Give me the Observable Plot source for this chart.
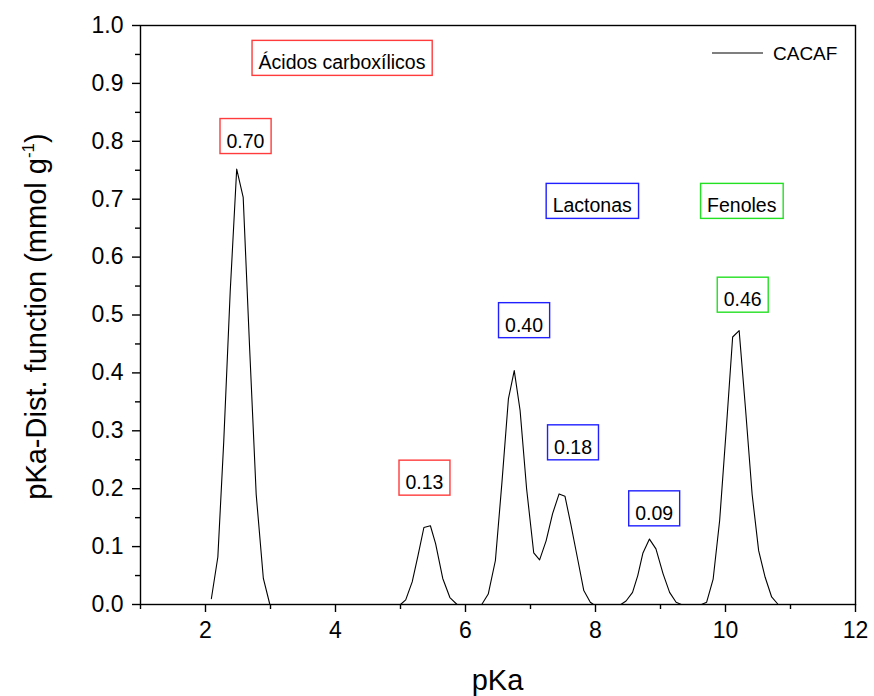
<!DOCTYPE html>
<html><head><meta charset="utf-8">
<script src="https://cdn.jsdelivr.net/npm/d3@7"></script>
<script src="https://cdn.jsdelivr.net/npm/@observablehq/plot@0.6"></script>
<style>
body{margin:0;background:#fff}
#chart svg{font-family:"Liberation Sans",Arial,sans-serif}
</style>
</head><body><div id="chart"></div>
<script>
// Series CACAF: pKa distribution values
const pKa = [2.09,2.19,2.28,2.38,2.48,2.58,2.68,2.78,2.89,2.99,
  5.00,5.08,5.18,5.27,5.36,5.46,5.54,5.65,5.76,5.87,
  6.25,6.35,6.46,6.56,6.66,6.75,6.84,6.94,7.05,7.14,7.24,7.34,7.44,7.53,7.62,7.73,7.82,7.92,7.97,
  8.39,8.47,8.57,8.65,8.73,8.83,8.93,9.04,9.14,9.24,9.32,
  9.63,9.71,9.81,9.91,10.01,10.11,10.21,10.31,10.41,10.51,10.61,10.71,10.81];
const dist = [0.010,0.082,0.28,0.54,0.752,0.703,0.44,0.19,0.045,0.0,
  0.0,0.008,0.039,0.085,0.133,0.136,0.105,0.045,0.012,0.0,
  0.0,0.018,0.076,0.21,0.355,0.404,0.335,0.20,0.089,0.077,0.11,0.157,0.191,0.187,0.139,0.076,0.024,0.004,0.0,
  0.0,0.006,0.021,0.05,0.089,0.113,0.096,0.053,0.021,0.004,0.0,
  0.0,0.004,0.044,0.145,0.30,0.462,0.473,0.335,0.19,0.093,0.047,0.013,0.0];
const seriesName = "CACAF";

// Axis ticks
const xMajorTicks = [2,4,6,8,10,12];
const xMinorTicks = [1,3,5,7,9,11];
const yMajorTicks = [0,0.1,0.2,0.3,0.4,0.5,0.6,0.7,0.8,0.9,1.0];
const yMinorTicks = [0.05,0.15,0.25,0.35,0.45,0.55,0.65,0.75,0.85,0.95];
const xLabel = "pKa";
const yLabelMain = "pKa-Dist. function (mmol g";
const yLabelSup = "-1";

// Annotation texts
const annTexts = ["Ácidos carboxílicos","0.70","0.13","0.40","0.18","0.09","Lactonas","Fenoles","0.46"];
// Annotation layout (data units) and box colours
const annPosX = [4.100,2.615,5.369,6.90,7.654,8.903,7.950,10.250,10.265];
const annPosY = [0.935,0.800,0.210,0.482,0.271,0.157,0.688,0.688,0.526];
const annBox = ["#ff3b3b","#ff3b3b","#ff3b3b","#1f1fff","#1f1fff","#1f1fff","#1f1fff","#22e022","#22e022"];

const data = pKa.map((x,i)=>({pKa:x, dist:dist[i]}));
const ann = annTexts.map((t,i)=>({label:t, x:annPosX[i], y:annPosY[i], box:annBox[i]}));

const plot = Plot.plot({
  width:874, height:696,
  marginLeft:140, marginRight:19, marginTop:25, marginBottom:92,
  x:{domain:[1,12]},
  y:{domain:[0,1]},
  style:{fontFamily:'"Liberation Sans", Arial, sans-serif', fontSize:"23px", color:"#000", background:"#fff", overflow:"visible"},
  marks:[
    Plot.line(data,{x:"pKa", y:"dist", stroke:"#000", strokeWidth:1.1}),
    Plot.frame({stroke:"#000", strokeWidth:1.4}),
    Plot.axisX({ticks:xMajorTicks, tickSize:8, tickPadding:9, tickFormat:d=>String(d), label:null, strokeWidth:1.4, fontSize:23}),
    Plot.axisX({ticks:xMinorTicks, tickSize:5, tickFormat:()=>"", label:null, strokeWidth:1.4}),
    Plot.axisY({ticks:yMajorTicks, tickSize:8, tickPadding:9, tickFormat:d3.format(".1f"), label:null, strokeWidth:1.4, fontSize:23}),
    Plot.axisY({ticks:yMinorTicks, tickSize:5, tickFormat:()=>"", label:null, strokeWidth:1.4}),
    Plot.text(ann,{x:"x", y:"y", text:"label", fontSize:19.5, fill:"#000", textAnchor:"middle"})
  ]
});
document.getElementById("chart").appendChild(plot);

const svg = d3.select(plot);
// boxes around annotations
svg.selectAll('g[aria-label="text"] text').each(function(){
  const el = this;
  const a = ann.find(o=>o.label===el.textContent);
  if(!a) return;
  const b = el.getBBox();
  const tr = el.getAttribute("transform");
  const r = document.createElementNS("http://www.w3.org/2000/svg","rect");
  r.setAttribute("x", b.x-6.5);
  r.setAttribute("y", b.y-11);
  r.setAttribute("width", b.width+13);
  r.setAttribute("height", b.height+13);
  r.setAttribute("fill","none");
  r.setAttribute("stroke", a.box);
  r.setAttribute("stroke-width", 1.4);
  if(tr) r.setAttribute("transform", tr);
  el.parentNode.insertBefore(r, el);
});

// legend
const xs = plot.scale("x"), ys = plot.scale("y");
const fr = xs.apply(12), ft = ys.apply(1);
svg.append("line").attr("x1",fr-143).attr("x2",fr-92).attr("y1",ft+28).attr("y2",ft+28).attr("stroke","#000").attr("stroke-width",1.1);
svg.append("text").attr("x",fr-82).attr("y",ft+35).attr("text-anchor","start").attr("font-size",19).attr("fill","#000").text(seriesName);

// axis titles
const cx = (xs.apply(1)+xs.apply(12))/2;
svg.append("text").attr("x",cx).attr("y",690).attr("text-anchor","middle").attr("font-size",29).attr("fill","#000").text(xLabel);
const cy = (ys.apply(0)+ys.apply(1))/2;
const yl = svg.append("text").attr("transform",`translate(46,${cy+2}) rotate(-90)`).attr("text-anchor","middle").attr("font-size",29).attr("fill","#000");
yl.append("tspan").text(yLabelMain);
yl.append("tspan").attr("font-size",17).attr("dy",-12).text(yLabelSup);
yl.append("tspan").attr("dy",12).text(")");
</script>
</body></html>
